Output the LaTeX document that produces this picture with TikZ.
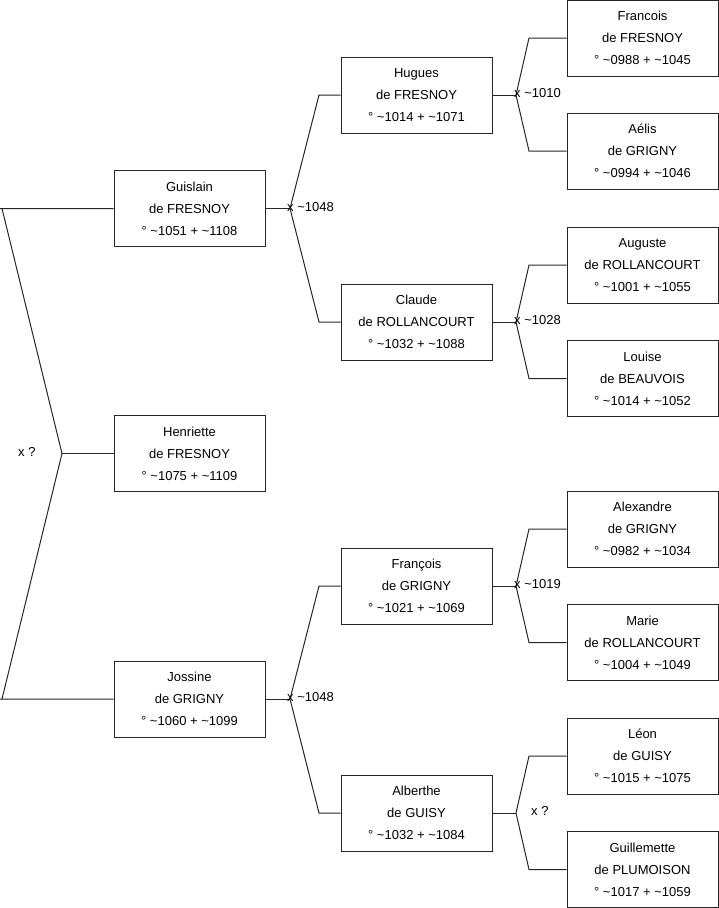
\documentclass[tikz,border=0pt]{standalone}
\usepackage{fontspec}
\setmainfont{Liberation Sans}
\begin{document}
\begin{tikzpicture}[x=1pt,y=-1pt,
  person/.style={draw=black!85,line width=1pt,minimum width=151pt,minimum height=76pt,
    inner sep=0pt,align=center,font=\fontsize{13}{22}\selectfont},
  link/.style={draw=black!85,line width=1pt},
  lbl/.style={font=\fontsize{13}{16}\selectfont,inner sep=0pt}]
\useasboundingbox (0,0) rectangle (719,908);
% column 1
\node[person] (guislain) at (189.5,208.5) {Guislain\\de FRESNOY\\° \textasciitilde1051 + \textasciitilde1108};
\node[person] (henriette) at (189.5,453.5) {Henriette\\de FRESNOY\\° \textasciitilde1075 + \textasciitilde1109};
\node[person] (jossine) at (189.5,699) {Jossine\\de GRIGNY\\° \textasciitilde1060 + \textasciitilde1099};
% column 2
\node[person] (hugues) at (416.5,95) {Hugues\\de FRESNOY\\° \textasciitilde1014 + \textasciitilde1071};
\node[person] (claude) at (416.5,322) {Claude\\de ROLLANCOURT\\° \textasciitilde1032 + \textasciitilde1088};
\node[person] (francoisg) at (416.5,586) {François\\de GRIGNY\\° \textasciitilde1021 + \textasciitilde1069};
\node[person] (alberthe) at (416.5,813) {Alberthe\\de GUISY\\° \textasciitilde1032 + \textasciitilde1084};
% column 3
\node[person] (francoisf) at (642.5,38) {Francois\\de FRESNOY\\° \textasciitilde0988 + \textasciitilde1045};
\node[person] (aelis) at (642.5,151) {Aélis\\de GRIGNY\\° \textasciitilde0994 + \textasciitilde1046};
\node[person] (auguste) at (642.5,265) {Auguste\\de ROLLANCOURT\\° \textasciitilde1001 + \textasciitilde1055};
\node[person] (louise) at (642.5,378.5) {Louise\\de BEAUVOIS\\° \textasciitilde1014 + \textasciitilde1052};
\node[person] (alexandre) at (642.5,529) {Alexandre\\de GRIGNY\\° \textasciitilde0982 + \textasciitilde1034};
\node[person] (marie) at (642.5,642.5) {Marie\\de ROLLANCOURT\\° \textasciitilde1004 + \textasciitilde1049};
\node[person] (leon) at (642.5,756) {Léon\\de GUISY\\° \textasciitilde1015 + \textasciitilde1075};
\node[person] (guillemette) at (642.5,869.5) {Guillemette\\de PLUMOISON\\° \textasciitilde1017 + \textasciitilde1059};
% junction coordinates
\coordinate (j0) at (62,453.5);
\coordinate (j0a) at (2,208.5);
\coordinate (j0b) at (2,699);
\coordinate (j1) at (290,208.5);
\coordinate (j1a) at (319,95);
\coordinate (j1b) at (319,322);
\coordinate (j2) at (290,699);
\coordinate (j2a) at (319,586);
\coordinate (j2b) at (319,813);
\coordinate (j3) at (516,95);
\coordinate (j3a) at (529,38);
\coordinate (j3b) at (529,151);
\coordinate (j4) at (516,322);
\coordinate (j4a) at (529,265);
\coordinate (j4b) at (529,378.5);
\coordinate (j5) at (516,586);
\coordinate (j5a) at (529,529);
\coordinate (j5b) at (529,642.5);
\coordinate (j6) at (516,813);
\coordinate (j6a) at (529,756);
\coordinate (j6b) at (529,869.5);
% connectors
\draw[link] (henriette.west) -- (j0);
\draw[link] (guislain.west) -- (0,208.5 |- guislain.west) -- (j0a) -- (j0) -- (j0b) -- (0,699) -- (jossine.west);
\draw[link] (guislain.east) -- (j1);
\draw[link] (hugues.west) -- (j1a) -- (j1) -- (j1b) -- (claude.west);
\draw[link] (jossine.east) -- (j2);
\draw[link] (francoisg.west) -- (j2a) -- (j2) -- (j2b) -- (alberthe.west);
\draw[link] (hugues.east) -- (j3);
\draw[link] (francoisf.west) -- (j3a) -- (j3) -- (j3b) -- (aelis.west);
\draw[link] (claude.east) -- (j4);
\draw[link] (auguste.west) -- (j4a) -- (j4) -- (j4b) -- (louise.west);
\draw[link] (francoisg.east) -- (j5);
\draw[link] (alexandre.west) -- (j5a) -- (j5) -- (j5b) -- (marie.west);
\draw[link] (alberthe.east) -- (j6);
\draw[link] (leon.west) -- (j6a) -- (j6) -- (j6b) -- (guillemette.west);
% labels
\node[lbl,anchor=west] (m0) at (18,451.5) {x ?};
\node[lbl,anchor=west] (m1) at (287,207) {x \textasciitilde1048};
\node[lbl,anchor=west] (m2) at (287,697.5) {x \textasciitilde1048};
\node[lbl,anchor=west] (m3) at (514,93.5) {x \textasciitilde1010};
\node[lbl,anchor=west] (m4) at (514,320.5) {x \textasciitilde1028};
\node[lbl,anchor=west] (m5) at (514,584.5) {x \textasciitilde1019};
\node[lbl,anchor=west] (m6) at (531,811) {x ?};
\end{tikzpicture}
\end{document}
